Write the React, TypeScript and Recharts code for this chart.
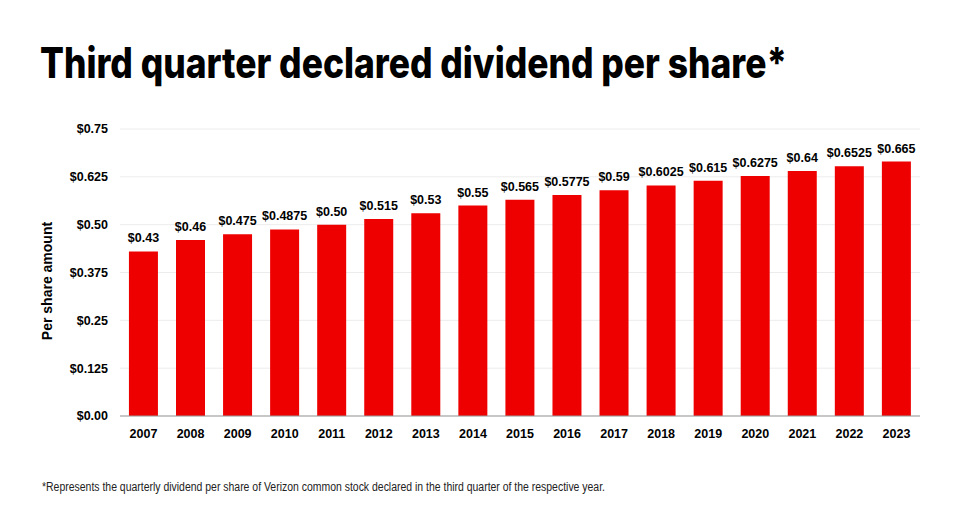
import React from 'react';
import { BarChart, Bar, XAxis, YAxis, CartesianGrid, LabelList } from 'recharts';

const years = ['2007','2008','2009','2010','2011','2012','2013','2014','2015','2016','2017','2018','2019','2020','2021','2022','2023'];
const dividends = [0.43,0.46,0.475,0.4875,0.50,0.515,0.53,0.55,0.565,0.5775,0.59,0.6025,0.615,0.6275,0.64,0.6525,0.665];
const valueLabels = ['$0.43','$0.46','$0.475','$0.4875','$0.50','$0.515','$0.53','$0.55','$0.565','$0.5775','$0.59','$0.6025','$0.615','$0.6275','$0.64','$0.6525','$0.665'];
const yTicks = [0, 0.125, 0.25, 0.375, 0.5, 0.625, 0.75];
const yTickLabels = ['$0.00','$0.125','$0.25','$0.375','$0.50','$0.625','$0.75'];

const data = years.map((y, i) => ({ year: y, value: dividends[i], label: valueLabels[i] }));

const FONT = '"Liberation Sans", Arial, sans-serif';

export default function App() {
  return (
    <div style={{ position: 'absolute', top: 0, left: 0, width: 960, height: 525, background: '#fff' }}>
      <BarChart
        width={960}
        height={525}
        data={data}
        margin={{ top: 129, right: 40, bottom: 79, left: 40 }}
        barCategoryGap="19%"
      >
        <CartesianGrid vertical={false} stroke="#ececec" />
        <XAxis
          dataKey="year"
          height={30}
          axisLine={{ stroke: '#999' }}
          tickLine={false}
          tickSize={0}
          tickMargin={13}
          tick={{ fill: '#000', fontSize: 12.5, fontWeight: 700, fontFamily: FONT }}
          interval={0}
        />
        <YAxis
          width={80}
          domain={[0, 0.75]}
          ticks={yTicks}
          interval={0}
          axisLine={false}
          tickLine={false}
          tickSize={0}
          tickMargin={12}
          tickFormatter={(v: number) => yTickLabels[yTicks.indexOf(v)]}
          tick={{ fill: '#000', fontSize: 12.5, fontWeight: 700, fontFamily: FONT }}
        />
        <Bar dataKey="value" fill="#EE0000" isAnimationActive={false}>
          <LabelList
            dataKey="label"
            position="top"
            offset={9}
            style={{ fill: '#000', fontSize: 12.5, fontWeight: 700, fontFamily: FONT }}
          />
        </Bar>
      </BarChart>
      <svg width={960} height={525} style={{ position: 'absolute', top: 0, left: 0, pointerEvents: 'none' }}>
        <text
          x={40}
          y={78}
          fontFamily='Inter, "Liberation Sans", sans-serif'
          fontWeight={800}
          fontSize={42}
          fill="#000"
          textLength={747}
          lengthAdjust="spacingAndGlyphs"
        >
          Third quarter declared dividend per share*
        </text>
        <text
          x={52}
          y={281}
          transform="rotate(-90 52 281)"
          textAnchor="middle"
          fontFamily={FONT}
          fontWeight={700}
          fontSize={14}
          fill="#000"
        >
          Per share amount
        </text>
        <text
          x={42}
          y={491}
          fontFamily={FONT}
          fontSize={12}
          fill="#222"
          textLength={563}
          lengthAdjust="spacingAndGlyphs"
        >
          *Represents the quarterly dividend per share of Verizon common stock declared in the third quarter of the respective year.
        </text>
      </svg>
    </div>
  );
}
